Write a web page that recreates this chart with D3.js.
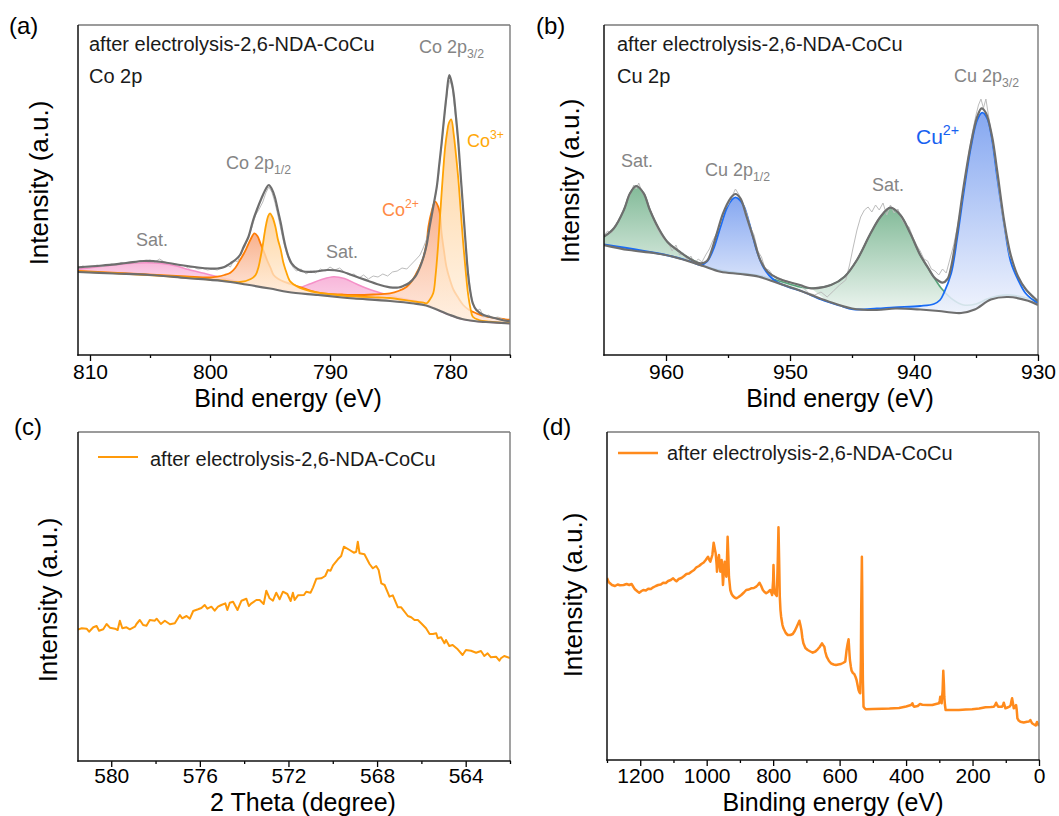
<!DOCTYPE html>
<html><head><meta charset="utf-8">
<script src="https://cdn.jsdelivr.net/npm/d3@7"></script>
<style>body{margin:0;background:#fff}svg{display:block}text{font-family:Arial,"Liberation Sans",sans-serif}</style>
</head><body>
<svg id="c" width="1059" height="816"></svg>
<script>
// ---------- Panel (a): Co 2p ----------  [binding energy eV, intensity a.u.]
const coTicks = [810, 800, 790, 780];
const coMinor = [805, 795, 785, 775];
const coBg = [[811,83],[808,81.5],[805,80],[802,77],[799,74],[797,70.5],[795,66.5],[793.5,63],[791,60],[789,57.5],[788,56.5],[785,54],[783,51.5],[782,49.5],[781,45],[780,40],[779,36],[778,34],[777,33],[775,31.5]];
const coEnvelope = [[811,87.7],[809,89.5],[807,92],[805.5,94],[804,93],[802.5,90],[801,87.5],[800,86.5],[799.4,86.5],[798.8,88],[798.3,91.7],[797.9,95],[797.5,100],[797.2,108],[796.8,118],[796.4,135],[796.1,145],[795.7,157],[795.35,166],[795.1,170],[794.85,166],[794.6,158],[794.35,145],[794.1,131.7],[793.9,119],[793.7,108],[793.45,98],[793.2,91.7],[792.7,86],[792.2,83.5],[791.2,83.5],[790.2,85],[789.2,84],[787.8,78.3],[786.8,74],[786.1,71],[785,67.7],[784.3,67.5],[783.9,69],[783.4,72],[782.9,78.3],[782.5,88],[782.2,98.3],[781.95,110],[781.7,128.3],[781.4,148],[781.1,168.3],[780.9,190],[780.7,211.7],[780.5,236],[780.3,258.3],[780.06,280],[779.85,272],[779.7,261.7],[779.5,238],[779.3,211.7],[779.1,178],[778.9,145],[778.7,112],[778.5,81.7],[778.3,63],[778.1,51.7],[777.8,45],[777.2,40],[776.3,37],[775.4,34.3],[775,34]];
const coRaw = [[811,87],[810.6,89],[810.2,87.5],[809.8,88.5],[809.4,90],[809,88.5],[808.6,89.5],[808.2,91],[807.8,90],[807.4,92.5],[807,91.5],[806.6,93],[806.2,92],[805.8,94.5],[805.4,93.5],[805,95],[804.6,93],[804.2,96],[803.8,93],[803.4,92],[803,91.5],[802.6,90],[802.2,89.5],[801.8,87],[801.4,88],[801,86],[800.6,86.5],[800.2,85],[799.8,86],[799.4,85],[799,87],[798.6,90],[798.3,88],[798,95],[797.7,93],[797.4,103],[797.1,108],[796.8,118],[796.5,128],[796.2,140],[795.9,146],[795.6,153],[795.35,162],[795.1,168],[794.85,163],[794.6,153],[794.35,140],[794.1,126],[793.85,112],[793.6,101],[793.35,93],[793.1,88],[792.8,84],[792.4,86],[792,81],[791.6,84],[791.2,82],[790.8,86],[790.4,84],[790,88],[789.6,85],[789.2,87],[788.8,83],[788.4,80],[788,81],[787.6,77],[787.2,80],[786.8,76],[786.4,79],[786,78],[785.6,81],[785.2,79],[784.8,83],[784.4,84],[784,87],[783.6,86],[783.2,91],[782.8,96],[782.5,100],[782.2,108],[781.95,116],[781.7,128],[781.45,146],[781.2,160],[780.95,180],[780.7,210],[780.45,240],[780.2,266],[780,275],[779.8,266],[779.55,240],[779.3,210],[779.05,172],[778.8,128],[778.55,92],[778.3,64],[778.05,50],[777.8,44],[777.5,46],[777.2,38],[776.8,40],[776.4,37],[776,38],[775.5,35],[775,34]];
const coSat = [[811,85.7],[809.5,88],[808,90],[806.5,91.8],[805.2,92.3],[804,91.5],[802.8,89],[801.8,85.5],[800.5,81.7],[799.2,77.7],[797.8,74],[796.5,70.5],[795.3,67.5],[794.3,66],[793.3,65],[792.5,67.5],[791.7,71],[790.7,75.5],[789.7,78.3],[788.8,76.5],[787.8,71],[786.9,66.5],[786.1,63.3],[785.2,60],[784.4,57.7],[783.3,55],[782.2,52.3],[781.5,49],[781,45],[780,40],[779,36],[778,34],[777,33],[775,31.5]];
const coII = [[811,84],[806,81],[802,78.5],[800,77.5],[799.4,78.3],[798.8,80],[798.3,82.3],[797.9,87],[797.5,95],[797.2,101],[796.9,108.3],[796.6,116],[796.3,121.7],[796.05,119],[795.8,111.7],[795.5,103],[795.25,95],[794.95,87],[794.7,80],[794.3,76],[793.85,73.3],[792.75,69],[791.5,64],[790.6,61.7],[789,60.5],[787.8,60],[786.4,60.5],[785,61.7],[784.3,64],[783.6,68.3],[783.2,73.5],[782.8,81.7],[782.5,89],[782.2,98.3],[781.95,112],[781.8,128.3],[781.5,145],[781.25,153.3],[780.9,145],[780.7,121.7],[780.5,104],[780.3,88.3],[780,75],[779.7,65],[779.3,57],[778.9,50],[778.4,45],[777.8,41.7],[777,38.5],[776,36.5],[775.4,35.7],[775,35.3]];
const coIII = [[811,83.5],[806,80.5],[802,77.5],[799,74.5],[797.5,73],[796.6,76],[796.2,80],[795.95,88.3],[795.75,100],[795.6,110],[795.45,122],[795.3,132],[795.15,139],[795,141.7],[794.8,138],[794.55,128.3],[794.35,116],[794.1,105],[793.9,93],[793.7,85],[793.5,78],[793.3,73.3],[792.75,68.5],[791.5,63.5],[789,59.5],[786,57.5],[785,57],[783,53.5],[782.2,52.3],[781.95,51.7],[781.7,55],[781.4,61.7],[781.2,80],[781,108.3],[780.85,135],[780.7,161.7],[780.55,187],[780.4,208.3],[780.25,222],[780.1,231.7],[779.9,235.7],[779.7,221.7],[779.5,200],[779.3,175],[779.1,143],[778.9,111.7],[778.7,85],[778.5,61.7],[778.3,47],[778.1,38.3],[777.6,35],[776.7,33.3],[775.4,32],[775,32]];

// ---------- Panel (b): Cu 2p ----------
const cuTicks = [960, 950, 940, 930];
const cuMinor = [955, 945, 935];
const cuBg = [[965,110],[963,105],[961,102],[959.5,98.5],[958,93],[957,89],[955.6,83.3],[954,81],[952.5,78.3],[951,72],[949,63.5],[947,54],[945,46.5],[943,45],[941.5,46.5],[939.5,45.5],[938,44],[937,42.5],[936.2,42],[935.1,45.5],[933.8,55.5],[932.4,58],[930.8,54.3],[930,50]];
const cuEnvelope = [[965,118.3],[964.2,126.7],[963.4,145],[962.9,161.7],[962.4,169],[961.8,161.7],[961.3,145],[960.6,126.7],[959.9,113.3],[958.9,103.3],[958,95.7],[957.2,91.7],[956.7,94],[956.4,101.7],[955.9,121.7],[955.4,141.7],[954.8,156.7],[954.4,161],[954,156.7],[953.5,138.3],[952.9,115],[952.4,95],[951.8,83.3],[951,76.7],[949.2,70],[948.3,66.7],[946.7,70],[945.6,78.3],[944.6,95],[943.5,121.7],[942.7,138.3],[941.9,147.3],[941.1,140],[940.3,121.7],[939.5,100],[938.9,88],[938.4,78],[938,74],[937.7,72.3],[937.3,76],[937,88.3],[936.5,125],[936,168.3],[935.4,212],[934.9,238.3],[934.55,246.7],[934.2,242],[933.7,218.3],[933.3,185],[932.7,131.7],[932.2,100],[931.6,78.3],[931,66],[930.2,56],[930,54]];
const cuRaw = [[965,120],[964.7,124],[964.4,122],[964.1,130],[963.8,135],[963.5,142],[963.2,152],[962.9,160],[962.6,170],[962.4,166],[962.2,172],[961.9,162],[961.6,156],[961.3,146],[961,137],[960.7,126],[960.4,120],[960.1,115],[959.8,112],[959.5,104],[959.2,110],[958.9,100],[958.6,102],[958.3,95],[958,99],[957.7,92],[957.4,96],[957.1,93],[956.8,100],[956.5,106],[956.2,115],[955.9,122],[955.6,132],[955.3,145],[955,150],[954.7,158],[954.4,166],[954.1,160],[953.8,152],[953.5,142],[953.2,128],[952.9,120],[952.6,104],[952.3,98],[952,86],[951.7,85],[951.4,80],[951.1,78],[950.5,75],[950,73],[949.5,71],[949,68],[948.5,62],[948,60],[947.5,63],[947,58],[946.5,64],[946,70],[945.5,75],[945.2,90],[944.9,108],[944.6,125],[944.3,138],[944,145],[943.7,148],[943.4,143],[943.1,150],[942.8,145],[942.5,152],[942.2,140],[941.9,150],[941.6,142],[941.3,146],[941,136],[940.7,130],[940.4,128],[940.1,118],[939.8,110],[939.5,104],[939.2,96],[938.9,94],[938.6,86],[938.3,84],[938,80],[937.7,86],[937.4,82],[937.1,96],[936.8,110],[936.5,128],[936.2,150],[935.9,175],[935.6,200],[935.3,222],[935,240],[934.8,250],[934.6,256],[934.4,247],[934.2,256],[934,240],[933.8,225],[933.5,200],[933.2,170],[932.9,142],[932.6,120],[932.3,100],[932,92],[931.7,80],[931.4,74],[931,66],[930.5,58],[930,55]];
const cuSat = [[965,118.3],[964.2,126.7],[963.4,145],[962.9,161.7],[962.4,169],[961.8,161.7],[961.3,145],[960.6,126.7],[959.9,113.3],[958.9,103.3],[958,96],[957.2,91],[956.4,87],[955.5,84.5],[954,82],[952.5,79.5],[951,74.5],[949.2,68],[948.3,66.7],[946.7,70],[945.6,78.3],[944.6,95],[943.5,121.7],[942.7,138.3],[941.9,147.3],[941.1,140],[940.3,121.7],[939.5,100],[938.6,81.7],[937.8,66.7],[937,56.7],[936,50],[935,51],[934.1,56],[933.3,59],[932.4,60],[930.8,56.7],[930,53.3]];
const cuII = [[965,110.5],[960,100],[958,93.5],[957.2,90],[956.7,93.3],[956.2,105],[955.6,128.3],[955.1,146.7],[954.7,155],[954.4,157.7],[954.05,155],[953.7,148.3],[953.2,128.3],[952.7,105],[952.1,86.7],[951.3,75],[950.2,68.3],[949,63.5],[947.5,55.5],[946,49.5],[944.9,45.7],[943,46.5],[941.6,47.7],[939.5,49],[938.4,51],[937.9,55],[937.6,61.7],[937,81.7],[936.5,118.3],[936,161.7],[935.4,208.3],[934.9,235],[934.5,242.3],[934.1,236.7],[933.7,215],[933.3,178.3],[932.7,128.3],[932.2,93.3],[931.6,75],[931,61.7],[930.2,53.3],[930,52]];

// ---------- Panel (c) ----------
const xrdTicks = [580, 576, 572, 568, 564];
const xrdMinor = [578, 574, 570, 566, 562];
const xrdData = [[581.56,131],[581.33,132.7],[581.11,132.3],[581,129.3],[580.81,133.7],[580.66,135],[580.55,130.3],[580.36,131.7],[580.21,137],[580.06,133.3],[579.83,132.3],[579.71,131],[579.61,140.3],[579.5,132.7],[579.31,133.7],[579.16,131.7],[578.93,134.3],[578.86,137],[578.71,141],[578.56,136],[578.41,135.3],[578.26,141],[578.03,140.3],[577.95,142.3],[577.76,137],[577.58,140.3],[577.35,136.7],[577.13,137.7],[576.9,146],[576.8,142.7],[576.6,145],[576.45,142.3],[576.3,150],[576.08,151.7],[575.93,153],[575.78,156],[575.66,152.3],[575.48,154.3],[575.33,150.3],[575.18,154.3],[575.03,156],[574.85,157.7],[574.76,151],[574.65,158.3],[574.5,159.3],[574.3,151],[574.12,160.3],[573.9,162.3],[573.79,155],[573.67,157.7],[573.45,161],[573.3,161],[573.12,157],[573,170.3],[572.85,162.7],[572.7,160.3],[572.55,168.3],[572.4,161.7],[572.25,169.3],[572.05,167],[571.9,160],[571.8,168.3],[571.72,161],[571.57,165.7],[571.3,166],[571.2,169.3],[571,168.3],[570.89,173.7],[570.74,182.3],[570.52,182.7],[570.34,185],[570.22,191],[570.1,190.3],[569.99,195.7],[569.77,201.7],[569.62,205],[569.5,214.3],[569.24,211],[569.05,208.3],[568.94,209.3],[568.87,219.3],[568.79,207.7],[568.57,206.7],[568.34,197],[568.19,192.7],[568.04,195],[567.93,191],[567.81,177.7],[567.66,176],[567.44,164.3],[567.29,165.7],[567.06,153.7],[566.91,153.7],[566.61,145],[566.46,143.7],[566.31,141],[566.16,141],[566.01,137.7],[565.79,132.7],[565.63,127],[565.48,127],[565.33,127.7],[565.26,122.7],[565.11,123.7],[564.96,117.7],[564.89,121],[564.74,115],[564.59,116],[564.36,111.7],[564.14,106],[563.99,111],[563.76,110.3],[563.53,108.3],[563.31,110],[563.16,105],[563.01,107.7],[562.86,103.7],[562.63,104.3],[562.48,100.3],[562.41,102.7],[562.26,105],[562,103]];

// ---------- Panel (d) ----------
const surveyTicks = [1200, 1000, 800, 600, 400, 200, 0];
const surveyMinor = [1300, 1100, 900, 700, 500, 300, 100];
const surveyData = [[1300,182],[1295,178],[1291,176.7],[1285,175],[1276,174],[1268,175.5],[1261,174.7],[1250,175],[1241,176],[1233,175],[1226,176],[1216,170.7],[1208,168.5],[1203,167.3],[1196,169],[1191,170],[1183,169.5],[1176,171.3],[1168,171],[1161,172.7],[1153,174],[1146,175],[1138,175.5],[1131,177.3],[1123,177],[1116,179],[1108,180],[1101,181.7],[1096,180],[1091,178.7],[1084,181],[1076,182],[1068,184],[1061,186],[1053,186.5],[1046,188.3],[1038,190],[1031,192.7],[1023,194],[1016,196],[1009,197.5],[1003,200],[996,203.3],[992,200],[989,198.3],[983,205],[979,217.3],[975,210],[973,206.7],[970,195],[969,188.3],[966,200],[963,205],[961,195],[959,188.3],[957,196],[955,200],[953,190],[951,175],[948,190],[946,198.3],[943,190],[941,183.3],[939,200],[937,223.3],[935,205],[933,183.3],[929,170],[925,166],[921,164],[916,162.5],[911,161.7],[904,163],[896,165],[888,167.5],[881,170],[873,170.5],[866,171.7],[858,172],[851,173.3],[846,175],[841,177.3],[836,174],[831,170],[826,168],[821,166.7],[815,168],[809,170],[806,168],[803,165],[800,180],[799,195],[797,175],[795,166.7],[789,164],[786,200],[784,232.7],[782,200],[780,163.3],[778,150],[776,143.3],[772,135],[769,131.7],[762,127],[756,125],[748,125],[741,126],[735,129],[729,133.3],[724,137],[721,139.3],[718,135],[715,130],[712,122],[709,116.7],[703,112],[696,110],[688,108.5],[681,107.3],[673,108.5],[666,110.7],[660,113],[653,116.7],[650,115],[646,113.3],[643,108],[639,103.3],[632,99],[626,96.7],[618,95.5],[611,95],[604,95.5],[596,96],[590,97],[583,98.3],[581,104],[579,110],[576,116],[573,120.7],[571,110],[569,100],[566,93],[564,89.3],[560,87],[556,86],[552,83],[549,80],[546,75],[543,70],[540,67.5],[538,66.7],[536,100],[535,150],[533,203.3],[532,170],[531,116.7],[530,80],[528,53.3],[524,51.5],[521,50.7],[500,51],[471,51.3],[450,51.5],[421,52],[400,53.5],[385,55],[381,56.7],[378,54],[376,53.3],[365,54],[358,56],[351,55.3],[335,55],[321,55],[310,56],[301,56.7],[299,59],[297,63.3],[295,58],[293,56.7],[290,70],[288,89.3],[286,75],[285,63.3],[283,55],[281,50],[260,50],[241,50],[220,50.5],[201,50.7],[180,51.5],[161,52.7],[145,53],[136,53.3],[132,55],[129,57.3],[126,55],[123,53.3],[115,53.3],[111,53.3],[108,55],[106,57.3],[103,54],[101,51.7],[95,52.5],[89,53.3],[85,55],[83,59],[81,61.7],[79,58],[76,51.7],[72,53],[69,55],[67,50],[65,41.7],[61,39.5],[56,38.3],[46,37.5],[36,38.3],[30,38.5],[26,40],[21,36.7],[15,35.5],[10,34.5],[6,38],[3,36],[0,34]];

const svg = d3.select('#c');
const defs = svg.append('defs');
const smooth = d3.curveCatmullRom.alpha(0.5);

function grad(id, top, bottom) {
  const g = defs.append('linearGradient').attr('id', id).attr('x1', 0).attr('y1', 0).attr('x2', 0).attr('y2', 1);
  g.append('stop').attr('offset', '0%').attr('stop-color', top);
  g.append('stop').attr('offset', '100%').attr('stop-color', bottom);
}
grad('gPink', '#f7aed6', '#fde4f0');
grad('gCo2', '#f7a377', '#ffe7dc');
grad('gCo3', '#ffc986', '#fff1e2');
grad('gBlue', '#7098ee', '#eef2fd');
grad('gGreen', '#7cb793', '#edf5f0');

function makePanel(o) {
  const x = d3.scaleLinear().domain(o.xDomain).range([o.left, o.right]);
  const y = d3.scaleLinear().domain([0, o.bottom - o.top]).range([o.bottom, o.top]);
  const g = svg.append('g');
  defs.append('clipPath').attr('id', 'clip' + o.id).append('rect')
    .attr('x', o.left).attr('y', o.top).attr('width', o.right - o.left).attr('height', o.bottom - o.top);
  const plot = g.append('g').attr('clip-path', `url(#clip${o.id})`);
  const ax = g.append('g').attr('transform', `translate(0,${o.bottom})`)
    .call(d3.axisBottom(x).tickValues(o.major).tickSize(6).tickPadding(o.pad).tickFormat(d3.format('d')));
  ax.select('.domain').remove();
  ax.selectAll('text').attr('font-size', 21).attr('fill', '#000').style('font-family', 'Arial, "Liberation Sans", sans-serif');
  ax.selectAll('line').attr('stroke', '#000').attr('stroke-width', 1.3);
  const ax2 = g.append('g').attr('transform', `translate(0,${o.bottom})`)
    .call(d3.axisBottom(x).tickValues(o.minor).tickSize(3).tickFormat(''));
  ax2.select('.domain').remove();
  ax2.selectAll('line').attr('stroke', '#000').attr('stroke-width', 1.3);
  // frame
  g.append('line').attr('x1', o.left).attr('x2', o.right).attr('y1', o.top).attr('y2', o.top).attr('stroke', '#7a7a7a').attr('stroke-width', 1.4);
  g.append('line').attr('x1', o.right).attr('x2', o.right).attr('y1', o.top).attr('y2', o.bottom).attr('stroke', '#7a7a7a').attr('stroke-width', 1.4);
  g.append('line').attr('x1', o.left).attr('x2', o.left).attr('y1', o.top).attr('y2', o.bottom + 0.7).attr('stroke', '#111').attr('stroke-width', 1.5);
  g.append('line').attr('x1', o.left - 0.7).attr('x2', o.right + 0.7).attr('y1', o.bottom).attr('y2', o.bottom).attr('stroke', '#111').attr('stroke-width', 1.5);
  // titles
  g.append('text').attr('x', o.xt[0]).attr('y', o.xt[1]).attr('text-anchor', 'middle').attr('font-size', 25).attr('fill', '#000').text(o.xTitle);
  g.append('text').attr('transform', `translate(${o.yt[0]},${o.yt[1]}) rotate(-90)`).attr('dy', '0.35em')
    .attr('text-anchor', 'middle').attr('font-size', 26).attr('fill', '#000').text('Intensity (a.u.)');
  g.append('text').attr('x', o.lab[0]).attr('y', o.lab[1]).attr('font-size', 24).attr('fill', '#000').text(o.label);
  return { x, y, plot, g };
}

function drawFit(P, series, bg, segments, gradId, fillOp, lineColor, lineW) {
  const line = d3.line().x(d => P.x(d[0])).y(d => P.y(d[1])).curve(smooth);
  segments.forEach(([hi, lo]) => {
    const s = series.filter(d => d[0] <= hi && d[0] >= lo);
    const b = bg.filter(d => d[0] <= hi && d[0] >= lo).slice().reverse();
    const path = line(s) + 'L' + line(b).slice(1) + 'Z';
    P.plot.append('path').attr('d', path).attr('fill', `url(#${gradId})`).attr('fill-opacity', fillOp);
  });
  P.plot.append('path').attr('d', line(series)).attr('fill', 'none').attr('stroke', lineColor).attr('stroke-width', lineW);
}
function drawLine(P, data, color, w, curve) {
  const line = d3.line().x(d => P.x(d[0])).y(d => P.y(d[1])).curve(curve || d3.curveLinear);
  P.plot.append('path').attr('d', line(data)).attr('fill', 'none').attr('stroke', color).attr('stroke-width', w).attr('stroke-linejoin', 'round');
}
function label(P, x, y, parts, size, color) {
  const t = P.g.append('text').attr('x', x).attr('y', y).attr('font-size', size).attr('fill', color);
  parts.forEach(p => {
    const ts = t.append('tspan').text(p.t);
    if (p.sub) ts.attr('font-size', size * 0.68).attr('dy', size * 0.28);
    if (p.sup) ts.attr('font-size', size * 0.68).attr('dy', -size * 0.42);
  });
  return t;
}

// ---------- Panel (a) ----------
const A = makePanel({ id: 'a', left: 78, right: 510, top: 25, bottom: 355, xDomain: [811, 775], major: coTicks, minor: coMinor, pad: 3,
  xTitle: 'Bind energy (eV)', xt: [288, 407], yt: [39, 183], label: '(a)', lab: [9, 34] });
drawFit(A, coSat, coBg, [[811, 794], [794, 775]], 'gPink', 0.9, '#f590c8', 1.6);
drawFit(A, coII, coBg, [[811, 789], [789, 775]], 'gCo2', 0.85, '#ff7d05', 1.8);
drawFit(A, coIII, coBg, [[811, 787], [787, 775]], 'gCo3', 0.78, '#ffa305', 1.8);
drawLine(A, coRaw, '#bcbcbc', 1);
drawLine(A, coEnvelope, '#6e6e6e', 2.2, smooth);
drawLine(A, coBg, '#6e6e6e', 2.2, smooth);
label(A, 89, 51, [{ t: 'after electrolysis-2,6-NDA-CoCu' }], 20, '#1a1a1a');
label(A, 89, 83, [{ t: 'Co 2p' }], 20, '#1a1a1a');
label(A, 419, 53, [{ t: 'Co 2p' }, { t: '3/2', sub: 1 }], 18, '#858585');
label(A, 226, 169, [{ t: 'Co 2p' }, { t: '1/2', sub: 1 }], 18, '#858585');
label(A, 136, 246, [{ t: 'Sat.' }], 18, '#858585');
label(A, 326, 258, [{ t: 'Sat.' }], 18, '#858585');
label(A, 382, 216, [{ t: 'Co' }, { t: '2+', sup: 1 }], 18, '#ff8a45');
label(A, 467, 147, [{ t: 'Co' }, { t: '3+', sup: 1 }], 18, '#ffa808');

// ---------- Panel (b) ----------
const B = makePanel({ id: 'b', left: 604, right: 1038, top: 25, bottom: 355, xDomain: [965, 930], major: cuTicks, minor: cuMinor, pad: 3,
  xTitle: 'Bind energy (eV)', xt: [840, 407], yt: [570, 181], label: '(b)', lab: [536, 34] });
drawFit(B, cuSat, cuBg, [[965, 948.3], [948.3, 930]], 'gGreen', 0.95, '#56a47b', 1.6);
drawFit(B, cuII, cuBg, [[965, 946], [946, 930]], 'gBlue', 0.85, '#1a6cf5', 1.8);
drawLine(B, cuRaw, '#bcbcbc', 1);
drawLine(B, cuEnvelope, '#6e6e6e', 2.2, smooth);
drawLine(B, cuBg, '#6e6e6e', 2.2, smooth);
label(B, 617, 51, [{ t: 'after electrolysis-2,6-NDA-CoCu' }], 20, '#1a1a1a');
label(B, 617, 83, [{ t: 'Cu 2p' }], 20, '#1a1a1a');
label(B, 954, 82, [{ t: 'Cu 2p' }, { t: '3/2', sub: 1 }], 18, '#858585');
label(B, 705, 176, [{ t: 'Cu 2p' }, { t: '1/2', sub: 1 }], 18, '#858585');
label(B, 621, 167, [{ t: 'Sat.' }], 18, '#858585');
label(B, 872, 191, [{ t: 'Sat.' }], 18, '#858585');
label(B, 916, 144, [{ t: 'Cu' }, { t: '2+', sup: 1 }], 21, '#1761f0');

// ---------- Panel (c) ----------
const C = makePanel({ id: 'c', left: 78, right: 510, top: 432, bottom: 761, xDomain: [581.5, 562], major: xrdTicks, minor: xrdMinor, pad: 1,
  xTitle: '2 Theta (degree)', xt: [303, 810.5], yt: [48, 600], label: '(c)', lab: [14, 435] });
drawLine(C, xrdData, '#ff9a0a', 2);
C.g.append('line').attr('x1', 98).attr('x2', 138).attr('y1', 457).attr('y2', 457).attr('stroke', '#ff9a0a').attr('stroke-width', 2);
label(C, 150, 466, [{ t: 'after electrolysis-2,6-NDA-CoCu' }], 20, '#1a1a1a');

// ---------- Panel (d) ----------
const D = makePanel({ id: 'd', left: 607, right: 1039, top: 432, bottom: 760, xDomain: [1300, 0], major: surveyTicks, minor: surveyMinor, pad: 2,
  xTitle: 'Binding energy (eV)', xt: [833, 810.5], yt: [573, 595], label: '(d)', lab: [542, 435] });
drawLine(D, surveyData, '#ff8a1c', 2.5);
D.g.append('line').attr('x1', 618).attr('x2', 658).attr('y1', 453).attr('y2', 453).attr('stroke', '#ff8a1c').attr('stroke-width', 2.6);
label(D, 667, 460, [{ t: 'after electrolysis-2,6-NDA-CoCu' }], 20, '#1a1a1a');
</script>
</body></html>
